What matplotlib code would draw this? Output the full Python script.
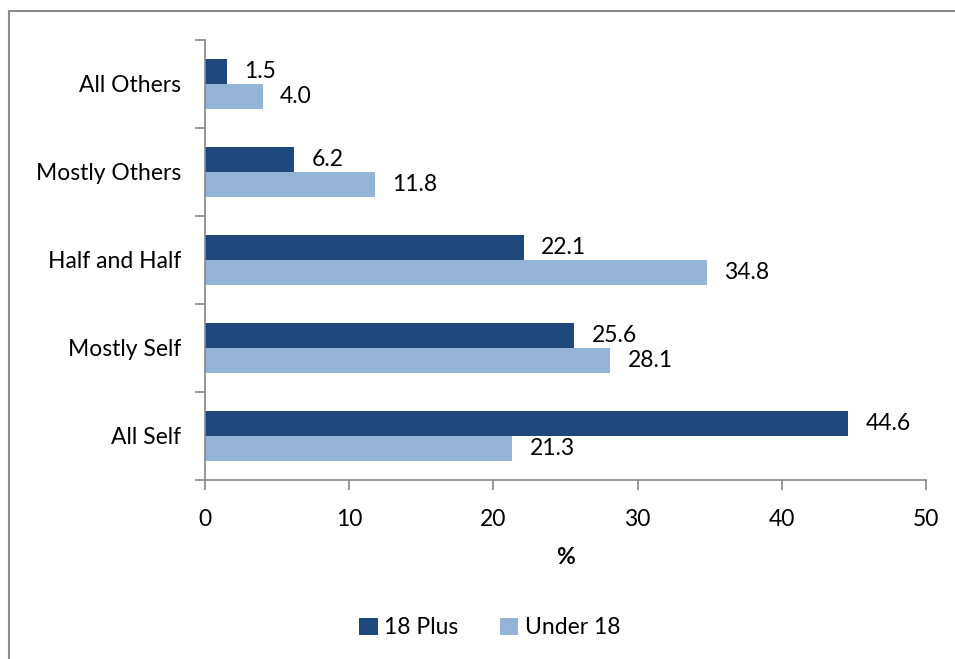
import matplotlib.pyplot as plt
from matplotlib.lines import Line2D
import numpy as np

plt.rcParams['font.family'] = ['Lato', 'DejaVu Sans']

categories = ['All Self', 'Mostly Self', 'Half and Half', 'Mostly Others', 'All Others']
plus18 = [44.6, 25.6, 22.1, 6.2, 1.5]
under18 = [21.3, 28.1, 34.8, 11.8, 4.0]
series_names = ['18 Plus', 'Under 18']
colors = ['#1F497D', '#95B3D7']
xticks = [0, 10, 20, 30, 40, 50]

fs = 16.5

fig = plt.figure(figsize=(9.55, 6.59), dpi=100)
ax = fig.add_axes([205/955, 1 - 480/659, 721/955, 440/659])

y = np.arange(len(categories))
h = 0.285
b1 = ax.barh(y + h/2, plus18, height=h, color=colors[0], label=series_names[0])
b2 = ax.barh(y - h/2, under18, height=h, color=colors[1], label=series_names[1])

for bars, vals in ((b1, plus18), (b2, under18)):
    for bar, v in zip(bars, vals):
        ax.text(v + 1.2, bar.get_y() + bar.get_height()/2, f'{v:.1f}',
                va='center', ha='left', fontsize=fs)

ax.set_xlim(0, 50)
ax.set_ylim(-0.5, len(categories) - 0.5)
ax.set_xticks(xticks)
ax.set_xticklabels([str(t) for t in xticks], fontsize=fs)
ax.set_yticks(y)
ax.set_yticklabels(categories, fontsize=fs)
ax.tick_params(axis='y', length=0, pad=17)
ax.set_yticks(np.arange(-0.5, len(categories)), minor=True)
ax.tick_params(axis='y', which='minor', length=7, color='#868686', width=1.2)
ax.tick_params(axis='x', length=7, color='#868686', width=1.2, pad=14)
for s in ['top', 'right']:
    ax.spines[s].set_visible(False)
for s in ['left', 'bottom']:
    ax.spines[s].set_color('#868686')
    ax.spines[s].set_linewidth(1.2)
ax.set_xlabel('%', fontsize=fs, fontweight='bold', labelpad=12)

fig.legend(handles=[b1, b2], labels=series_names, loc='center',
           bbox_to_anchor=(490/955, 1 - 628/659), ncol=2, frameon=False,
           fontsize=fs, handlelength=0.8, handleheight=0.8, handletextpad=0.3,
           columnspacing=1.8)

# outer chart border (right and bottom run off the picture)
fig.add_artist(Line2D([9/955, 9/955], [0, 1 - 11/659], color='#8c8c8c', lw=1.5,
                      transform=fig.transFigure))
fig.add_artist(Line2D([9/955, 1], [1 - 11/659, 1 - 11/659], color='#8c8c8c', lw=1.5,
                      transform=fig.transFigure))

fig.savefig('out.png', dpi=100)
